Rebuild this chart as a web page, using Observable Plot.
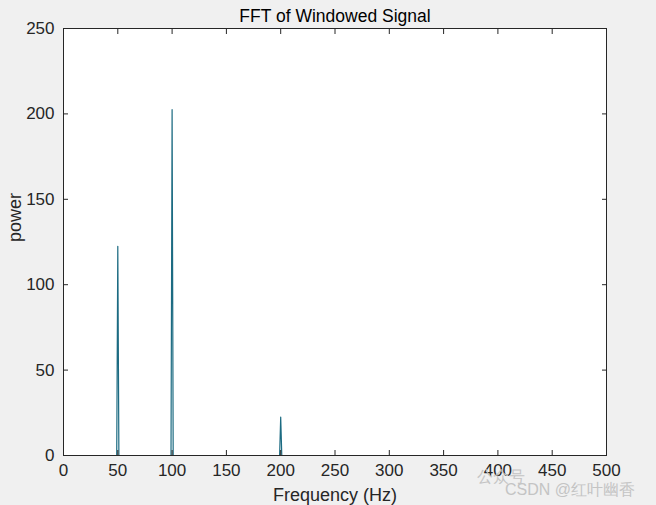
<!DOCTYPE html>
<html>
<head>
<meta charset="utf-8">
<script src="https://cdn.jsdelivr.net/npm/d3@7"></script>
<script src="https://cdn.jsdelivr.net/npm/@observablehq/plot@0.6"></script>
<style>
  html, body { margin: 0; padding: 0; background: #f0f0f0; }
  #chart { position: relative; width: 656px; height: 505px; }
  .wm { position: absolute; color: #c4c4c4; font-family: "Liberation Sans", Arial, sans-serif; font-size: 16px; white-space: nowrap; }
</style>
</head>
<body>
<div id="chart"></div>
<script>
const freq  = [0, 49, 50, 51, 99, 100, 101, 199, 200, 201, 500];
const power = [0, 0, 122.5, 0, 0, 202.5, 0, 0, 22.5, 0, 0];
const xTicks = [0, 50, 100, 150, 200, 250, 300, 350, 400, 450, 500];
const yTicks = [0, 50, 100, 150, 200, 250];
const title = "FFT of Windowed Signal";
const xLabel = "Frequency (Hz)";
const yLabel = "power";
const watermark1 = "公众号";
const watermark2 = "CSDN @红叶幽香";

const data = freq.map((f, i) => ({f, p: power[i]}));

const font = "'Liberation Sans', Arial, sans-serif";
const plot = Plot.plot({
  width: 656,
  height: 505,
  marginLeft: 63,
  marginRight: 50,
  marginTop: 28,
  marginBottom: 50,
  style: { background: "#f0f0f0", fontFamily: font, fontSize: "17px", color: "#262626" },
  x: { domain: [0, 500] },
  y: { domain: [0, 250] },
  marks: [
    Plot.frame({ fill: "white", stroke: "none" }),
    Plot.line(data, { x: "f", y: "p", stroke: "#1c6b82", strokeWidth: 1.2 }),
    Plot.frame({ stroke: "#262626", strokeWidth: 1 }),
    Plot.axisX({ ticks: xTicks, tickSize: 0, tickPadding: 8, fontSize: 17, label: null, fill: "#262626" }),
    Plot.axisX({ ticks: xTicks, tickSize: -5, tickFormat: () => "", label: null, stroke: "#262626" }),
    Plot.axisX({ ticks: xTicks, anchor: "top", tickSize: -5, tickFormat: () => "", label: null, stroke: "#262626" }),
    Plot.axisY({ ticks: yTicks, tickSize: 0, tickPadding: 9, fontSize: 17, label: null, fill: "#262626" }),
    Plot.axisY({ ticks: yTicks, tickSize: -5, tickFormat: () => "", label: null, stroke: "#262626" }),
    Plot.axisY({ ticks: yTicks, anchor: "right", tickSize: -5, tickFormat: () => "", label: null, stroke: "#262626" }),
    Plot.text([title], { frameAnchor: "top", dy: -7, lineAnchor: "bottom", text: d => d, fontSize: 17.5, fill: "black" }),
    Plot.text([xLabel], { frameAnchor: "bottom", dy: 45, text: d => d, fontSize: 18, fill: "#262626" }),
    Plot.text([yLabel], { frameAnchor: "left", dx: -48, rotate: -90, text: d => d, fontSize: 18, fill: "#262626" })
  ]
});
const chart = document.getElementById("chart");
chart.appendChild(plot);
const w1 = document.createElement("div");
w1.className = "wm"; w1.textContent = watermark1;
w1.style.left = "477px"; w1.style.top = "467px";
chart.appendChild(w1);
const w2 = document.createElement("div");
w2.className = "wm"; w2.textContent = watermark2;
w2.style.left = "505px"; w2.style.top = "480px";
chart.appendChild(w2);
</script>
</body>
</html>
